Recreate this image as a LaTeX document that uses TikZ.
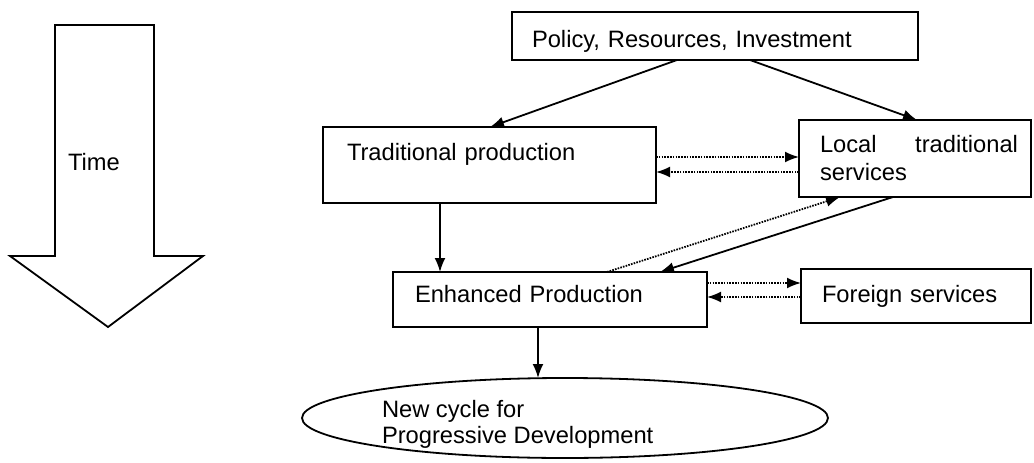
\documentclass[tikz,border=0pt]{standalone}
\usepackage{fontspec}
\setmainfont{Liberation Sans}
\usetikzlibrary{arrows.meta,calc,shapes.geometric}
\tikzset{
  boxnode/.style={draw, line width=1.8pt, rectangle, anchor=north west, inner ysep=0pt, outer sep=0pt, align=left, font=\fontsize{23.7}{28}\selectfont},
  conn/.style={line width=1.8pt, -{Latex[length=14pt,width=11pt]}},
  dotconn/.style={line width=1.8pt, dash pattern=on 1.6pt off 1.2pt, -{Latex[length=14pt,width=11pt]}},
  txt/.style={inner sep=0pt, outer sep=0pt, font=\fontsize{23.7}{26}\selectfont}
}
\begin{document}
\begin{tikzpicture}[x=1pt,y=-1pt]
\useasboundingbox (0,0) rectangle (1034,463);
% time arrow
\draw[line width=1.8pt, line join=miter] (55,25) -- (154,25) -- (154,256) -- (203,256) -- (108,327) -- (10,256) -- (55,256) -- cycle;
\node[txt, anchor=base west] (time) at (68,170) {Time};
% boxes
\node[boxnode, inner xsep=20pt, text width=366pt, text height=35pt, text depth=13pt] (policy) at (512,12) {Policy, Resources, Investment};
\node[boxnode, inner xsep=24pt, text width=285pt, text height=33pt, text depth=43pt] (trad) at (323,127) {Traditional production};
\node[boxnode, inner xsep=13pt, text width=206pt, text height=32pt, text depth=45pt] (local) at (799,120) {\hspace*{8pt}Local\hfill traditional\\\hspace*{8pt}services};
\node[boxnode, inner xsep=22pt, text width=270pt, text height=30pt, text depth=25pt] (enh) at (393,272) {Enhanced Production};
\node[boxnode, inner xsep=21pt, text width=188pt, text height=33pt, text depth=21pt] (foreign) at (801,269) {Foreign services};
\node[draw, ellipse, line width=1.8pt, minimum width=526pt, minimum height=80pt, inner sep=0pt, outer sep=0pt] (cycle) at (565,418) {};
\node[txt, anchor=north west, align=left, text height=43pt, text depth=0pt] (cycletext) at (382,400) {New cycle for\\Progressive Development};
% connectors
\draw[conn] ($(policy.south west)+(165,0)$) -- ($(trad.north west)+(167,0)$);
\draw[conn] ($(policy.south west)+(238,0)$) -- ($(local.north west)+(118,0)$);
\draw[conn] ($(trad.south west)+(117,0)$) -- ($(enh.north west)+(47,0)$);
\draw[dotconn] ($(trad.north east)+(0,30)$) -- ($(local.north west)+(0,37)$);
\draw[dotconn] ($(local.north west)+(0,52)$) -- ($(trad.north east)+(0,45)$);
\draw[dotconn] ($(enh.north west)+(214,0)$) -- ($(local.south west)+(41,0)$);
\draw[conn] ($(local.south west)+(94,0)$) -- ($(enh.north west)+(267,0)$);
\draw[dotconn] ($(enh.north east)+(0,11)$) -- ($(foreign.north west)+(0,14)$);
\draw[dotconn] ($(foreign.north west)+(0,28)$) -- ($(enh.north east)+(0,25)$);
\draw[conn] ($(enh.south west)+(145,0)$) -- ($(cycle.north)+(-27,0)$);
\end{tikzpicture}
\end{document}
